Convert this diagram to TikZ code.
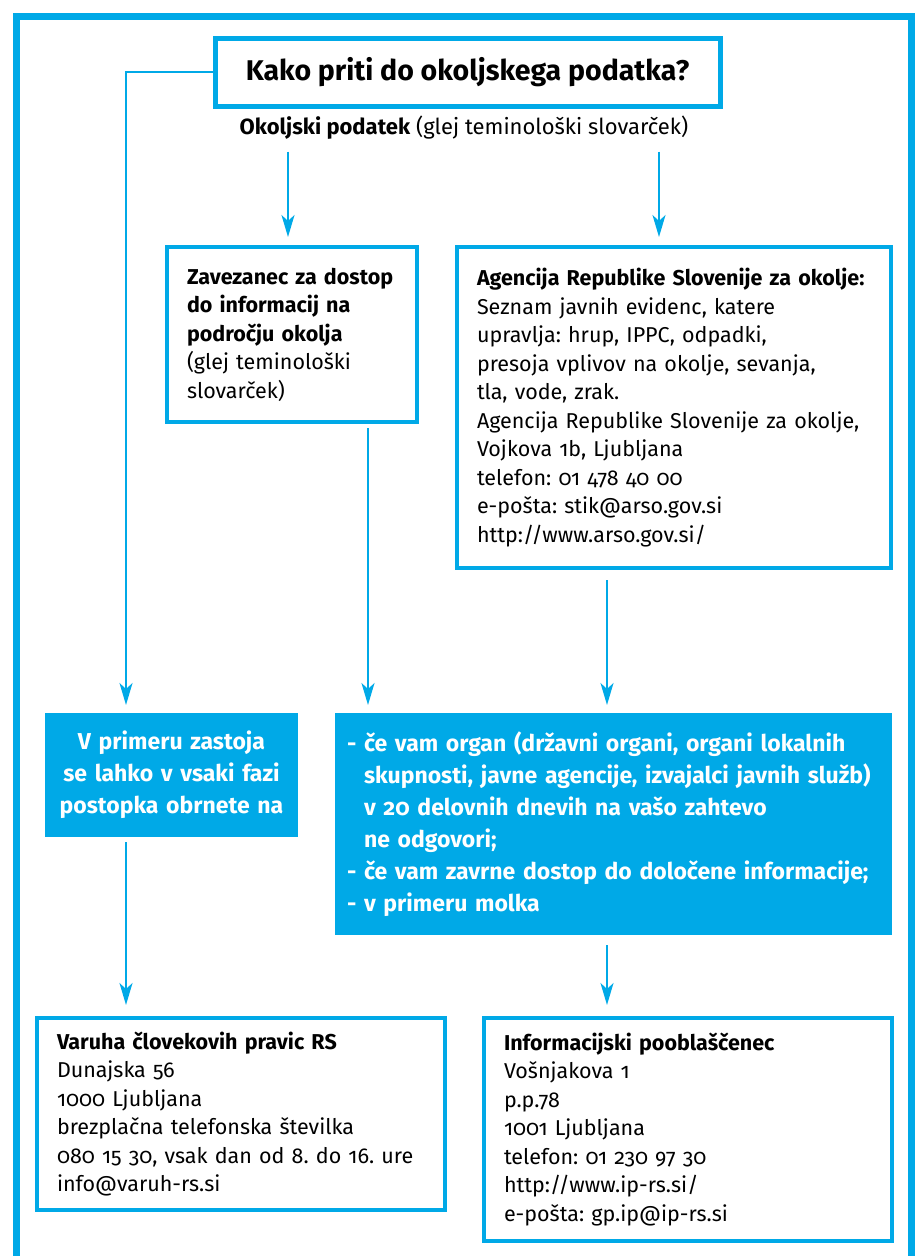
\documentclass[tikz,border=0pt]{standalone}
\usepackage{fontspec}
\setmainfont[Numbers=OldStyle]{Fira Sans}
\usetikzlibrary{arrows.meta,positioning}
\definecolor{arsoblue}{RGB}{0,169,231}
\frenchspacing

\begin{document}
\begin{tikzpicture}[
        x=1pt,y=-1pt,
        every node/.append style={outer sep=0pt,inner ysep=0pt},
        txtbox/.style={draw=arsoblue,line width=4pt,anchor=north west,align=left,
            inner xsep=20pt,font=\fontsize{21.5}{28.5}\selectfont},
        fillbox/.style={fill=arsoblue,text=white,anchor=north west,
            font=\bfseries\fontsize{23}{32}\selectfont},
        arr/.style={draw=arsoblue,line width=2pt,
            -{Stealth[length=22pt,width=13pt,inset=6pt]}}
    ]
    \useasboundingbox (0,0) rectangle (922,1256);
    \draw[arsoblue,line width=7pt] (16.5,1256) |- (911.5,16.5) -- (911.5,1256);

    \node[draw=arsoblue,line width=5pt,minimum width=505pt,minimum height=68pt,
        font=\bfseries\fontsize{28.5}{32}\selectfont] (title) at (467.5,72)
        {Kako priti do okoljskega podatka?};
    \node[font=\fontsize{22}{26}\selectfont] (sub) at (464,128)
        {\textbf{Okoljski podatek} (glej teminološki slovarček)};

    \node[txtbox,text width=210pt,minimum height=175pt] (zav) at (167,247)
        {\textbf{Zavezanec za dostop}\\\textbf{do informacij na}\\\textbf{področju okolja}\\(glej teminološki\\slovarček)};
    \node[txtbox,text width=394pt,minimum height=321pt,right=40pt of zav.north east,anchor=north west] (ag)
        {\textbf{Agencija Republike Slovenije za okolje:}\\
         Seznam javnih evidenc, katere\\
         upravlja: hrup, IPPC, odpadki,\\
         presoja vplivov na okolje, sevanja,\\
         tla, vode, zrak.\\
         Agencija Republike Slovenije za okolje,\\
         Vojkova 1b, Ljubljana\\
         telefon: 01 478 40 00\\
         e-pošta: stik@arso.gov.si\\
         http://www.arso.gov.si/};

    \node[fillbox,align=center,text width=233pt,inner xsep=10pt,minimum height=124pt] (vprim) at (45,713)
        {V primeru zastoja\\se lahko v vsaki fazi\\postopka obrnete na};
    \node[fillbox,align=left,text width=533pt,inner xsep=12pt,minimum height=222pt,
        right=37pt of vprim.north east,anchor=north west] (big)
        {- če vam organ (državni organi, organi lokalnih\\
         \hphantom{- }skupnosti, javne agencije, izvajalci javnih služb)\\
         \hphantom{- }v 20 delovnih dnevih na vašo zahtevo\\
         \hphantom{- }ne odgovori;\\
         - če vam zavrne dostop do določene informacije;\\
         - v primeru molka};

    \node[txtbox,text width=368pt,minimum height=192pt] (varuh) at (37,1018)
        {\textbf{Varuha človekovih pravic RS}\\
         Dunajska 56\\
         1000 Ljubljana\\
         brezplačna telefonska številka\\
         080 15 30, vsak dan od 8. do 16. ure\\
         info@varuh-rs.si};
    \node[txtbox,text width=368pt,minimum height=223pt,right=39pt of varuh.north east,anchor=north west] (info)
        {\textbf{Informacijski pooblaščenec}\\
         Vošnjakova 1\\
         p.p.78\\
         1001 Ljubljana\\
         telefon: 01 230 97 30\\
         http://www.ip-rs.si/\\
         e-pošta: gp.ip@ip-rs.si};

    % connectors
    \draw[arr,shorten >=8pt] (title.west) -| ([xshift=-45.5pt]vprim.north);
    \draw[arr,shorten <=12pt,shorten >=10pt] ([xshift=-176pt]sub.south) -- ([xshift=-176pt]sub.south |- zav.north);
    \draw[arr,shorten <=12pt,shorten >=10pt] ([xshift=195pt]sub.south) -- ([xshift=195pt]sub.south |- ag.north);
    \draw[arr,shorten <=6pt,shorten >=8pt] ([xshift=76pt]zav.south) -- ([xshift=76pt]zav.south |- big.north);
    \draw[arr,shorten <=12pt,shorten >=8pt] ([xshift=-67pt]ag.south) -- ([xshift=-67pt]ag.south |- big.north);
    \draw[arr,shorten <=5pt,shorten >=13pt] ([xshift=-45.5pt]vprim.south) -- ([xshift=-45.5pt]vprim.south |- varuh.north);
    \draw[arr,shorten <=10pt,shorten >=13pt] ([xshift=-6.5pt]big.south) -- ([xshift=-6.5pt]big.south |- info.north);
\end{tikzpicture}
\end{document}
